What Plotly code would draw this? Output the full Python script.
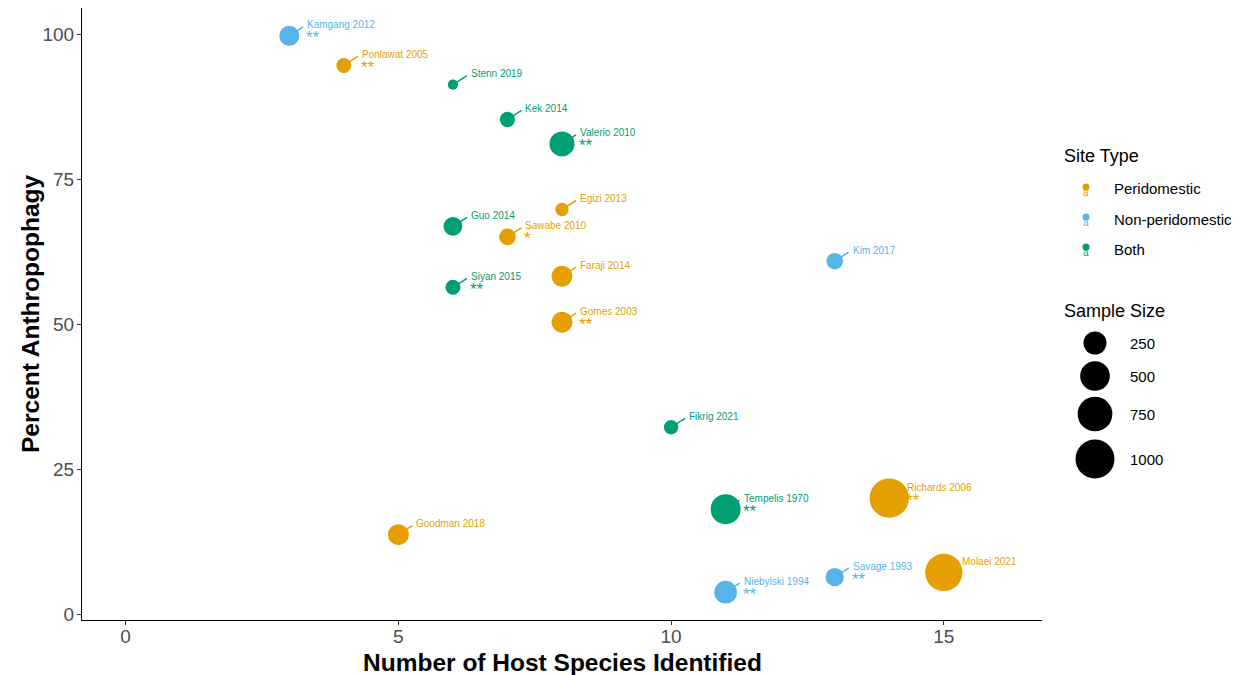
import math
import plotly.graph_objects as go

# ---- data -------------------------------------------------------------
study = ["Kamgang 2012", "Ponlawat 2005", "Stenn 2019", "Kek 2014", "Valerio 2010",
         "Egizi 2013", "Guo 2014", "Sawabe 2010", "Kim 2017", "Faraji 2014",
         "Siyan 2015", "Gomes 2003", "Fikrig 2021", "Tempelis 1970", "Richards 2006",
         "Goodman 2018", "Savage 1993", "Molaei 2021", "Niebylski 1994"]
n_hosts = [3, 4, 6, 7, 8, 8, 6, 7, 13, 8, 6, 8, 10, 11, 14, 5, 13, 15, 11]
pct_anthropophagy = [99.7, 94.6, 91.3, 85.3, 81.1, 69.8, 66.9, 65.1, 60.9, 58.3,
                     56.4, 50.4, 32.3, 18.2, 20.1, 13.8, 6.5, 7.3, 3.9]
site_type = ["Non-peridomestic", "Peridomestic", "Both", "Both", "Both",
             "Peridomestic", "Both", "Peridomestic", "Non-peridomestic", "Peridomestic",
             "Both", "Peridomestic", "Both", "Both", "Peridomestic",
             "Peridomestic", "Non-peridomestic", "Peridomestic", "Non-peridomestic"]
sample_size = [165, 60, 10, 67, 316, 39, 134, 92, 90, 191,
               62, 191, 52, 517, 1020, 191, 125, 898, 240]
significance = ["**", "**", "", "", "**", "", "", "*", "", "",
                "**", "**", "", "**", "**", "", "**", "", "**"]

site_levels = ["Peridomestic", "Non-peridomestic", "Both"]
size_breaks = [250, 500, 750, 1000]

# ---- styling ----------------------------------------------------------
palette = {"Peridomestic": "#E69F00", "Non-peridomestic": "#56B4E9", "Both": "#009E73"}
FONT = "Liberation Sans, Arial, Helvetica, sans-serif"

W, H = 1240, 675
ML, MR, MT, MB = 82, 198, 8, 55
PW, PH = W - ML - MR, H - MT - MB


def size_px(n):
    """Marker diameter in pixels for a sample size (area-style scale)."""
    return 7 + 32 * math.sqrt(n / 1000)


def px_to_paper(px, py):
    return (px - ML) / PW, (H - MB - py) / PH


fig = go.Figure()

for level in site_levels:
    idx = [i for i, s in enumerate(site_type) if s == level]
    fig.add_trace(go.Scatter(
        x=[n_hosts[i] for i in idx],
        y=[pct_anthropophagy[i] for i in idx],
        mode="markers",
        name=level,
        marker=dict(size=[size_px(sample_size[i]) for i in idx],
                    color=palette[level], opacity=1, line=dict(width=0)),
        hoverinfo="skip",
        showlegend=False,
    ))

shapes = []
annotations = []

# study labels with leader segments and significance stars
for i, name in enumerate(study):
    col = palette[site_type[i]]
    shapes.append(dict(
        type="line", xref="x", yref="y", layer="below",
        xsizemode="pixel", ysizemode="pixel",
        xanchor=n_hosts[i], yanchor=pct_anthropophagy[i],
        x0=0, y0=0, x1=14, y1=9,
        line=dict(color=col, width=1.5),
    ))
    annotations.append(dict(
        x=n_hosts[i], y=pct_anthropophagy[i], xref="x", yref="y",
        text=name, showarrow=False, xanchor="left", yanchor="middle",
        xshift=16, yshift=11, font=dict(family=FONT, size=10, color=col),
    ))
    if significance[i]:
        annotations.append(dict(
            x=n_hosts[i], y=pct_anthropophagy[i], xref="x", yref="y",
            text=significance[i], showarrow=False, xanchor="left", yanchor="middle",
            xshift=15, yshift=-2, font=dict(family=FONT, size=17, color=col),
        ))

# axis titles
annotations.append(dict(
    x=0.5, y=px_to_paper(0, 662)[1], xref="paper", yref="paper",
    text="<b>Number of Host Species Identified</b>", showarrow=False,
    xanchor="center", yanchor="middle",
    font=dict(family=FONT, size=24.5, color="black"),
))
annotations.append(dict(
    x=px_to_paper(30, 0)[0], y=0.5, xref="paper", yref="paper",
    text="<b>Percent Anthropophagy</b>", showarrow=False, textangle=-90,
    xanchor="center", yanchor="middle",
    font=dict(family=FONT, size=24.5, color="black"),
))

# ---- legend: site type ----------------------------------------------
lx, ly = px_to_paper(1062, 156)
annotations.append(dict(x=lx, y=ly, xref="paper", yref="paper", text="Site Type",
                        showarrow=False, xanchor="left", yanchor="middle",
                        font=dict(family=FONT, size=18, color="black")))
for k, level in enumerate(site_levels):
    cy = 189 + 30 * k
    col = palette[level]
    kx, ky = px_to_paper(1086, cy - 2)
    shapes.append(dict(type="circle", xref="paper", yref="paper",
                       xsizemode="pixel", ysizemode="pixel", xanchor=kx, yanchor=ky,
                       x0=-3.5, x1=3.5, y0=-3.5, y1=3.5,
                       fillcolor=col, line=dict(width=0)))
    ax_, ay_ = px_to_paper(1086, cy + 3)
    annotations.append(dict(x=ax_, y=ay_, xref="paper", yref="paper", text="a",
                            showarrow=False, xanchor="center", yanchor="middle",
                            font=dict(family=FONT, size=10, color=col)))
    tx, ty = px_to_paper(1112, cy)
    annotations.append(dict(x=tx, y=ty, xref="paper", yref="paper", text=level,
                            showarrow=False, xanchor="left", yanchor="middle",
                            font=dict(family=FONT, size=15, color="black")))

# ---- legend: sample size --------------------------------------------
sx, sy = px_to_paper(1062, 311)
annotations.append(dict(x=sx, y=sy, xref="paper", yref="paper", text="Sample Size",
                        showarrow=False, xanchor="left", yanchor="middle",
                        font=dict(family=FONT, size=18, color="black")))
size_rows = [343, 376, 414, 459]
for n, cy in zip(size_breaks, size_rows):
    r = size_px(n) / 2
    kx, ky = px_to_paper(1095, cy)
    shapes.append(dict(type="circle", xref="paper", yref="paper",
                       xsizemode="pixel", ysizemode="pixel", xanchor=kx, yanchor=ky,
                       x0=-r, x1=r, y0=-r, y1=r,
                       fillcolor="black", line=dict(width=0)))
    tx, ty = px_to_paper(1128, cy)
    annotations.append(dict(x=tx, y=ty, xref="paper", yref="paper", text=str(n),
                            showarrow=False, xanchor="left", yanchor="middle",
                            font=dict(family=FONT, size=15, color="black")))

axis_common = dict(
    showgrid=False, zeroline=False, showline=True, linecolor="black", linewidth=1.2,
    ticks="outside", ticklen=4, tickwidth=1.2, tickcolor="#333333",
    tickfont=dict(family=FONT, size=19, color="#4d4d4d"),
)

fig.update_layout(
    width=W, height=H,
    margin=dict(l=ML, r=MR, t=MT, b=MB, autoexpand=False),
    plot_bgcolor="white", paper_bgcolor="white",
    showlegend=False,
    xaxis=dict(range=[-0.8, 16.8], tickvals=[0, 5, 10, 15], ticklabelstandoff=-5,
               **axis_common),
    yaxis=dict(range=[-0.89, 104.5], tickvals=[0, 25, 50, 75, 100], ticklabelstandoff=-1,
               **axis_common),
    shapes=shapes,
    annotations=annotations,
)

fig.write_html("out.html")
